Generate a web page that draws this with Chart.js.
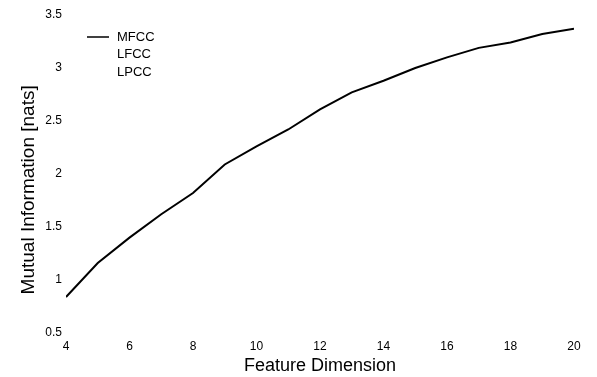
<!DOCTYPE html>
<html>
<head>
<meta charset="utf-8">
<script src="https://cdn.jsdelivr.net/npm/chart.js@4"></script>
<style>
  html, body { margin: 0; padding: 0; background: #fff; }
  #wrap { width: 597px; height: 377px; }
</style>
</head>
<body>
<div id="wrap"><canvas id="chart"></canvas></div>
<script>
  // feature dimension on the x axis
  const dims = [4, 5, 6, 7, 8, 9, 10, 11, 12, 13, 14, 15, 16, 17, 18, 19, 20];
  // mutual information (nats)
  const mfcc = [0.84, 1.16, 1.40, 1.62, 1.82, 2.09, 2.26, 2.42, 2.61, 2.77, 2.88, 3.00, 3.10, 3.19, 3.24, 3.32, 3.37];
  const seriesNames = ['MFCC', 'LFCC', 'LPCC'];
  const xTicks = [4, 6, 8, 10, 12, 14, 16, 18, 20];
  const yTicks = [0.5, 1, 1.5, 2, 2.5, 3, 3.5];

  const FONT = '"Liberation Sans", Arial, Helvetica, sans-serif';

  // legend drawn by hand, top-left, only the first entry has a line sample
  const legendPlugin = {
    id: 'cornerLegend',
    afterDraw: function(chart) {
      const ctx = chart.ctx;
      ctx.save();
      ctx.font = '13px ' + FONT;
      ctx.fillStyle = '#000';
      ctx.textBaseline = 'middle';
      chart.data.datasets.forEach(function(ds, i) {
        const y = 37 + i * 17.5;
        if (ds.data.length) {
          ctx.strokeStyle = '#000';
          ctx.lineWidth = 1.5;
          ctx.beginPath();
          ctx.moveTo(87, y);
          ctx.lineTo(109, y);
          ctx.stroke();
        }
        ctx.fillText(ds.label, 117, y);
      });
      ctx.restore();
    }
  };

  const points = dims.map(function(d, i) { return { x: d, y: mfcc[i] }; });

  new Chart(document.getElementById('chart'), {
    type: 'line',
    data: {
      datasets: [
        { label: seriesNames[0], data: points, borderColor: '#000', borderWidth: 2, pointRadius: 0, tension: 0 },
        { label: seriesNames[1], data: [], borderColor: '#000', borderWidth: 2, pointRadius: 0 },
        { label: seriesNames[2], data: [], borderColor: '#000', borderWidth: 2, pointRadius: 0 }
      ]
    },
    options: {
      responsive: true,
      maintainAspectRatio: false,
      animation: false,
      layout: { padding: { top: 15, right: 23, left: 17, bottom: 0 } },
      plugins: {
        legend: { display: false },
        tooltip: { enabled: false }
      },
      scales: {
        x: {
          type: 'linear',
          min: 4,
          max: 20,
          afterBuildTicks: function(axis) { axis.ticks = xTicks.map(function(v) { return { value: v }; }); },
          afterFit: function(axis) { axis.height = 44; },
          grid: { display: false, drawTicks: false },
          border: { display: false },
          ticks: { color: '#000', font: { family: FONT, size: 12 }, padding: 6, maxRotation: 0 },
          title: { display: true, text: 'Feature Dimension', color: '#000', font: { family: FONT, size: 18 }, padding: { top: 0, bottom: 0 } }
        },
        y: {
          min: 0.5,
          max: 3.5,
          afterBuildTicks: function(axis) { axis.ticks = yTicks.map(function(v) { return { value: v }; }); },
          afterFit: function(axis) { axis.width = 49; },
          grid: { display: false, drawTicks: false },
          border: { display: false },
          ticks: {
            color: '#000',
            font: { family: FONT, size: 12 },
            padding: 4,
            callback: function(v) { return String(v); }
          },
          // trailing spaces nudge the rotated title down a little
          title: { display: true, text: 'Mutual Information [nats]      ', color: '#000', font: { family: FONT, size: 19 }, padding: { top: 0, bottom: 0 } }
        }
      }
    },
    plugins: [legendPlugin]
  });
</script>
</body>
</html>
